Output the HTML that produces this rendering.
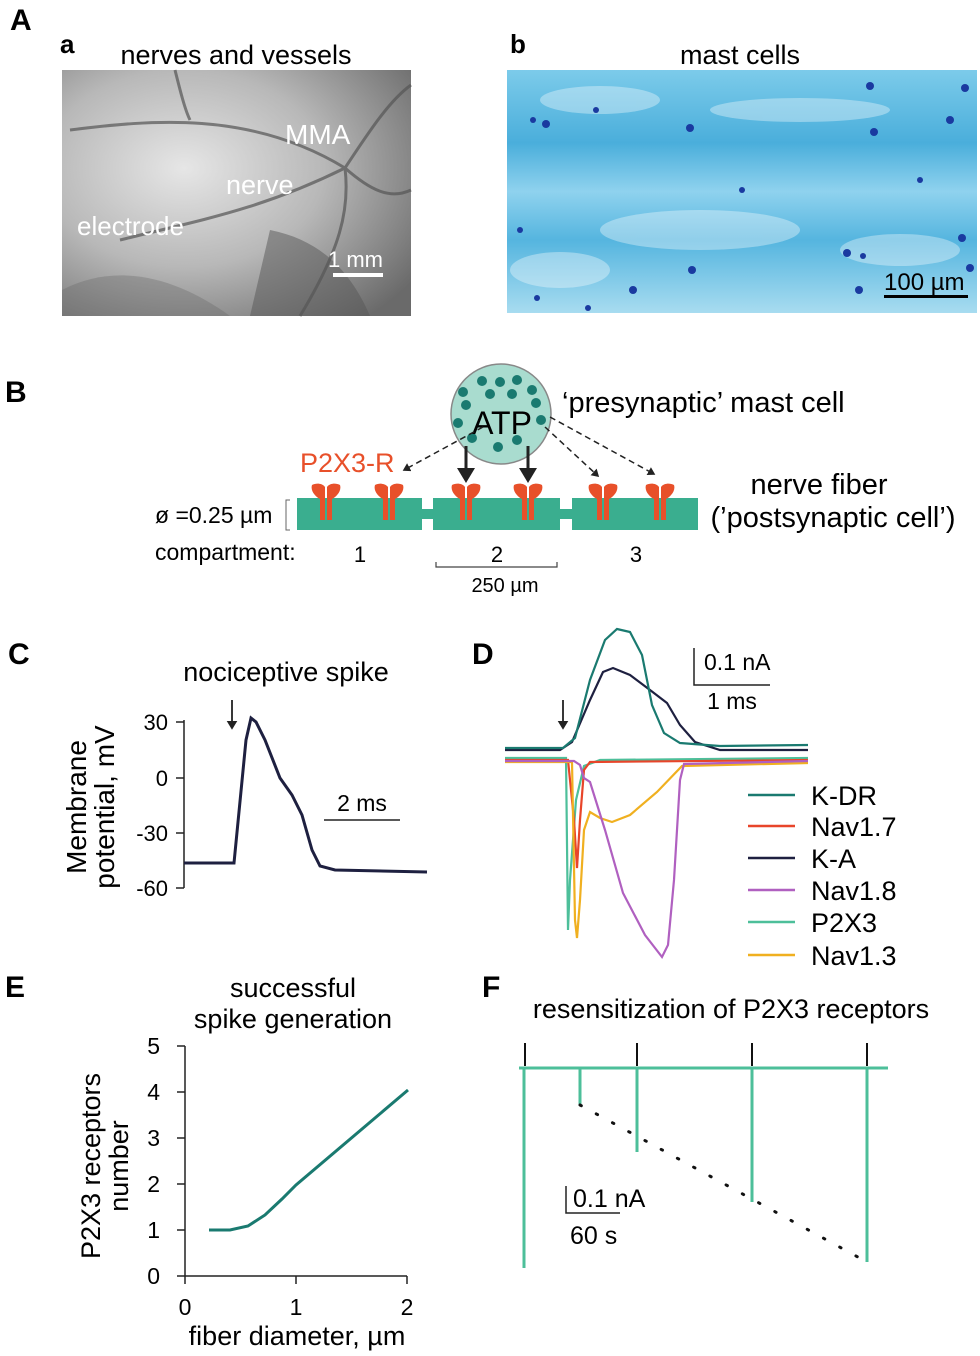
<!DOCTYPE html>
<html><head><meta charset="utf-8"><style>
html,body{margin:0;padding:0;background:#fff;}
svg{display:block;font-family:"Liberation Sans",sans-serif;}
</style></head><body>
<svg width="980" height="1356" viewBox="0 0 980 1356" xmlns="http://www.w3.org/2000/svg">
<defs>
<radialGradient id="gA" cx="0.35" cy="0.4" r="0.8">
<stop offset="0" stop-color="#e6e6e6"/><stop offset="0.5" stop-color="#b8b8b8"/><stop offset="1" stop-color="#6a6a6a"/>
</radialGradient>
<linearGradient id="gB" x1="0" y1="0" x2="0" y2="1">
<stop offset="0" stop-color="#7ccbea"/><stop offset="0.3" stop-color="#4aaedb"/><stop offset="0.5" stop-color="#8fd2ee"/><stop offset="0.7" stop-color="#55b5df"/><stop offset="1" stop-color="#a8dcf0"/>
</linearGradient>
<marker id="ahb" markerWidth="6" markerHeight="6" refX="4" refY="3" orient="auto"><path d="M0,0 L5,3 L0,6 z" fill="#222"/></marker>
</defs>

<!-- Panel A -->
<text x="10" y="30" font-size="30" font-weight="bold">A</text>
<text x="60" y="53" font-size="26" font-weight="bold">a</text>
<text x="236" y="64" font-size="27" text-anchor="middle">nerves and vessels</text>
<rect x="62" y="70" width="349" height="246" fill="url(#gA)"/>
<g stroke="#555" fill="none" stroke-width="3" opacity="0.7">
<path d="M70,130 C150,120 250,110 345,168 C370,190 390,200 411,190"/>
<path d="M345,168 C350,210 340,250 300,316"/>
<path d="M175,70 C180,90 185,110 190,120"/>
<path d="M345,168 C370,130 390,100 411,85"/>
<path d="M120,240 C200,220 260,210 345,168"/>
</g>
<path d="M270,230 C320,240 350,270 370,316 L250,316 Z" fill="#555" opacity="0.5"/>
<path d="M62,290 C120,260 180,280 230,316 L62,316 Z" fill="#666" opacity="0.35"/>
<text x="285" y="144" font-size="28" fill="#fff">MMA</text>
<text x="226" y="194" font-size="27" fill="#fff">nerve</text>
<text x="77" y="235" font-size="26" fill="#fff">electrode</text>
<text x="328" y="267" font-size="22" fill="#fff">1 mm</text>
<rect x="333" y="273" width="50" height="4" fill="#fff"/>

<text x="510" y="53" font-size="26" font-weight="bold">b</text>
<text x="740" y="64" font-size="27" text-anchor="middle">mast cells</text>
<rect x="507" y="70" width="470" height="243" fill="url(#gB)"/>
<g fill="#fff" opacity="0.35">
<ellipse cx="600" cy="100" rx="60" ry="14"/><ellipse cx="800" cy="110" rx="90" ry="12"/>
<ellipse cx="700" cy="230" rx="100" ry="20"/><ellipse cx="560" cy="270" rx="50" ry="18"/>
<ellipse cx="900" cy="250" rx="60" ry="16"/>
</g>
<g fill="#1a3aa0">
<circle cx="546" cy="124" r="4"/><circle cx="533" cy="120" r="3"/><circle cx="596" cy="110" r="3"/><circle cx="690" cy="128" r="4"/>
<circle cx="870" cy="86" r="4"/><circle cx="874" cy="132" r="4"/><circle cx="950" cy="120" r="4"/><circle cx="965" cy="88" r="4"/>
<circle cx="520" cy="230" r="3"/><circle cx="633" cy="290" r="4"/><circle cx="692" cy="270" r="4"/><circle cx="537" cy="298" r="3"/>
<circle cx="588" cy="308" r="3"/><circle cx="847" cy="253" r="4"/><circle cx="863" cy="256" r="3"/><circle cx="859" cy="290" r="4"/>
<circle cx="962" cy="238" r="4"/><circle cx="970" cy="268" r="4"/><circle cx="920" cy="180" r="3"/><circle cx="742" cy="190" r="3"/>
</g>
<text x="884" y="290" font-size="24">100 µm</text>
<rect x="884" y="295" width="84" height="3" fill="#000"/>

<!-- Panel B -->
<text x="5" y="402" font-size="30" font-weight="bold">B</text>
<circle cx="501" cy="414" r="50" fill="#a9dccf" stroke="#888" stroke-width="1.5"/>
<g fill="#1a7a70">
<circle cx="482" cy="381" r="5"/><circle cx="500" cy="382" r="5"/><circle cx="517" cy="380" r="5"/><circle cx="463" cy="392" r="5"/>
<circle cx="490" cy="394" r="5"/><circle cx="512" cy="394" r="5"/><circle cx="532" cy="390" r="5"/><circle cx="536" cy="403" r="5"/>
<circle cx="466" cy="405" r="5"/><circle cx="541" cy="420" r="5"/><circle cx="472" cy="438" r="5"/><circle cx="498" cy="447" r="5"/><circle cx="517" cy="440" r="5"/><circle cx="458" cy="423" r="5"/>
</g>
<text x="502" y="434" font-size="32" text-anchor="middle">ATP</text>
<text x="562" y="412" font-size="29">‘presynaptic’ mast cell</text>
<text x="300" y="472" font-size="27" fill="#e8502a">P2X3-R</text>
<g stroke="#222" stroke-width="1.5" fill="none" stroke-dasharray="6,4">
<path d="M483,427 L404,470" marker-end="url(#ahb)"/>
<path d="M545,427 L598,476" marker-end="url(#ahb)"/>
<path d="M550,417 L654,474" marker-end="url(#ahb)"/>
</g>
<g stroke="#222" stroke-width="3">
<path d="M466,446 L466,480" marker-end="url(#ahb)"/>
<path d="M528,446 L528,480" marker-end="url(#ahb)"/>
</g>
<g fill="#3aae8f">
<rect x="297" y="498" width="125" height="32"/><rect x="433" y="498" width="127" height="32"/><rect x="572" y="498" width="126" height="32"/>
<rect x="420" y="509" width="16" height="10"/><rect x="558" y="509" width="16" height="10"/>
</g>
<g fill="#e8502a">
<g transform="translate(326,485)"><path d="M-14,0 C-16,6 -10,12 -6,14 L-6,35 L-1,35 L-1,2 C-4,-2 -10,-2 -14,0Z"/><path d="M14,0 C16,6 10,12 6,14 L6,35 L1,35 L1,2 C4,-2 10,-2 14,0Z"/></g>
<g transform="translate(389,485)"><path d="M-14,0 C-16,6 -10,12 -6,14 L-6,35 L-1,35 L-1,2 C-4,-2 -10,-2 -14,0Z"/><path d="M14,0 C16,6 10,12 6,14 L6,35 L1,35 L1,2 C4,-2 10,-2 14,0Z"/></g>
<g transform="translate(466,485)"><path d="M-14,0 C-16,6 -10,12 -6,14 L-6,35 L-1,35 L-1,2 C-4,-2 -10,-2 -14,0Z"/><path d="M14,0 C16,6 10,12 6,14 L6,35 L1,35 L1,2 C4,-2 10,-2 14,0Z"/></g>
<g transform="translate(528,485)"><path d="M-14,0 C-16,6 -10,12 -6,14 L-6,35 L-1,35 L-1,2 C-4,-2 -10,-2 -14,0Z"/><path d="M14,0 C16,6 10,12 6,14 L6,35 L1,35 L1,2 C4,-2 10,-2 14,0Z"/></g>
<g transform="translate(603,485)"><path d="M-14,0 C-16,6 -10,12 -6,14 L-6,35 L-1,35 L-1,2 C-4,-2 -10,-2 -14,0Z"/><path d="M14,0 C16,6 10,12 6,14 L6,35 L1,35 L1,2 C4,-2 10,-2 14,0Z"/></g>
<g transform="translate(660,485)"><path d="M-14,0 C-16,6 -10,12 -6,14 L-6,35 L-1,35 L-1,2 C-4,-2 -10,-2 -14,0Z"/><path d="M14,0 C16,6 10,12 6,14 L6,35 L1,35 L1,2 C4,-2 10,-2 14,0Z"/></g>
</g>
<text x="155" y="523" font-size="23">ø =0.25 µm</text>
<path d="M290,500 L286,500 L286,530 L290,530" stroke="#666" fill="none" stroke-width="1"/>
<text x="155" y="560" font-size="23">compartment:</text>
<text x="360" y="562" font-size="22" text-anchor="middle">1</text>
<text x="497" y="562" font-size="22" text-anchor="middle">2</text>
<text x="636" y="562" font-size="22" text-anchor="middle">3</text>
<path d="M436,562 L436,567 L557,567 L557,562" stroke="#444" fill="none" stroke-width="1.2"/>
<text x="505" y="592" font-size="20" text-anchor="middle">250 µm</text>
<text x="819" y="494" font-size="29" text-anchor="middle">nerve fiber</text>
<text x="833" y="527" font-size="29" text-anchor="middle">(’postsynaptic cell’)</text>

<!-- Panel C -->
<text x="8" y="664" font-size="30" font-weight="bold">C</text>
<text x="286" y="681" font-size="27" text-anchor="middle">nociceptive spike</text>
<path d="M232,700 L232,728" stroke="#222" stroke-width="1.8" marker-end="url(#ahb)"/>
<g stroke="#222" stroke-width="1.5">
<line x1="184" y1="720" x2="184" y2="888"/>
<line x1="176" y1="722" x2="184" y2="722"/><line x1="176" y1="778" x2="184" y2="778"/>
<line x1="176" y1="833" x2="184" y2="833"/><line x1="176" y1="888" x2="184" y2="888"/>
</g>
<g font-size="22" text-anchor="end">
<text x="168" y="730">30</text><text x="168" y="786">0</text><text x="168" y="841">-30</text><text x="168" y="896">-60</text>
</g>
<text transform="translate(86,807) rotate(-90)" font-size="28" text-anchor="middle">Membrane</text>
<text transform="translate(114,807) rotate(-90)" font-size="28" text-anchor="middle">potential, mV</text>
<path d="M184,863 L234,863 L246,740 L251,718 L256,722 L265,740 L280,778 L292,795 L302,815 L312,850 L320,866 L335,870 L427,872" stroke="#1e2040" stroke-width="3" fill="none"/>
<line x1="324" y1="820" x2="400" y2="820" stroke="#222" stroke-width="1.5"/>
<text x="362" y="811" font-size="23" text-anchor="middle">2 ms</text>

<!-- Panel D -->
<text x="472" y="664" font-size="30" font-weight="bold">D</text>
<path d="M563,700 L563,728" stroke="#222" stroke-width="1.8" marker-end="url(#ahb)"/>
<g fill="none" stroke-width="2.2">
<path d="M505,758 L566,758 L568,930 L570,880 L576,800 L584,766 L600,760 L808,758" stroke="#4dbf9a"/>
<path d="M505,760 L568,760 L574,820 L577,868 L580,820 L584,770 L590,762 L808,760" stroke="#e8452a"/>
<path d="M505,762 L572,762 L575,920 L577,938 L580,900 L584,830 L590,812 L600,818 L612,822 L630,815 L657,792 L682,766 L808,763" stroke="#f0b020"/>
<path d="M505,761 L574,761 L580,765 L584,778 L590,782 L605,830 L623,893 L645,935 L662,957 L668,945 L674,880 L680,780 L684,764 L808,761" stroke="#b060c0"/>
<path d="M505,750 L560,750 L572,742 L590,700 L603,672 L613,668 L630,675 L650,690 L667,703 L680,725 L695,742 L720,750 L808,750" stroke="#1e2040"/>
<path d="M505,748 L563,748 L575,738 L590,680 L605,640 L617,629 L630,632 L642,655 L652,705 L664,733 L680,743 L720,746 L808,745" stroke="#1a7a70"/>
</g>
<path d="M694,648 L694,685 L770,685" stroke="#222" stroke-width="1.5" fill="none"/>
<text x="704" y="670" font-size="23">0.1 nA</text>
<text x="732" y="709" font-size="23" text-anchor="middle">1 ms</text>
<g stroke-width="2.5">
<line x1="748" y1="795" x2="795" y2="795" stroke="#1a7a70"/>
<line x1="748" y1="826" x2="795" y2="826" stroke="#e8452a"/>
<line x1="748" y1="858" x2="795" y2="858" stroke="#1e2040"/>
<line x1="748" y1="890" x2="795" y2="890" stroke="#b060c0"/>
<line x1="748" y1="922" x2="795" y2="922" stroke="#4dbf9a"/>
<line x1="748" y1="955" x2="795" y2="955" stroke="#f0b020"/>
</g>
<g font-size="27">
<text x="811" y="805">K-DR</text><text x="811" y="836">Nav1.7</text><text x="811" y="868">K-A</text>
<text x="811" y="900">Nav1.8</text><text x="811" y="932">P2X3</text><text x="811" y="965">Nav1.3</text>
</g>

<!-- Panel E -->
<text x="5" y="997" font-size="30" font-weight="bold">E</text>
<text x="293" y="997" font-size="27" text-anchor="middle">successful</text>
<text x="293" y="1028" font-size="27" text-anchor="middle">spike generation</text>
<g stroke="#222" stroke-width="1.5">
<line x1="185" y1="1046" x2="185" y2="1276"/><line x1="185" y1="1276" x2="407" y2="1276"/>
<line x1="177" y1="1046" x2="185" y2="1046"/><line x1="177" y1="1092" x2="185" y2="1092"/><line x1="177" y1="1138" x2="185" y2="1138"/>
<line x1="177" y1="1184" x2="185" y2="1184"/><line x1="177" y1="1230" x2="185" y2="1230"/><line x1="177" y1="1276" x2="185" y2="1276"/>
<line x1="185" y1="1276" x2="185" y2="1284"/><line x1="296" y1="1276" x2="296" y2="1284"/><line x1="407" y1="1276" x2="407" y2="1284"/>
</g>
<g font-size="23" text-anchor="end">
<text x="160" y="1054">5</text><text x="160" y="1100">4</text><text x="160" y="1146">3</text>
<text x="160" y="1192">2</text><text x="160" y="1238">1</text><text x="160" y="1284">0</text>
</g>
<g font-size="23" text-anchor="middle">
<text x="185" y="1315">0</text><text x="296" y="1315">1</text><text x="407" y="1315">2</text>
</g>
<text x="297" y="1345" font-size="27" text-anchor="middle">fiber diameter, µm</text>
<text transform="translate(100,1166) rotate(-90)" font-size="27" text-anchor="middle">P2X3 receptors</text>
<text transform="translate(128,1166) rotate(-90)" font-size="27" text-anchor="middle">number</text>
<path d="M209,1230 L230,1230 L248,1226 L265,1215 L282,1199 L296,1185 L408,1090" stroke="#1a7a70" stroke-width="3" fill="none"/>

<!-- Panel F -->
<text x="482" y="997" font-size="30" font-weight="bold">F</text>
<text x="731" y="1018" font-size="27" text-anchor="middle">resensitization of P2X3 receptors</text>
<g stroke="#4dbf9a" stroke-width="3">
<line x1="519" y1="1068" x2="888" y2="1068"/>
<line x1="524" y1="1068" x2="524" y2="1268"/>
<line x1="580" y1="1068" x2="580" y2="1105"/>
<line x1="637" y1="1068" x2="637" y2="1152"/>
<line x1="752" y1="1068" x2="752" y2="1202"/>
<line x1="867" y1="1068" x2="867" y2="1262"/>
</g>
<g stroke="#111" stroke-width="2">
<line x1="525" y1="1043" x2="525" y2="1066"/><line x1="637" y1="1043" x2="637" y2="1066"/>
<line x1="752" y1="1043" x2="752" y2="1066"/><line x1="867" y1="1043" x2="867" y2="1066"/>
</g>
<line x1="580" y1="1105" x2="867" y2="1262" stroke="#111" stroke-width="3" stroke-dasharray="1.5,17" stroke-linecap="round"/>
<path d="M566,1186 L566,1213 L620,1213" stroke="#222" stroke-width="1.5" fill="none"/>
<text x="573" y="1207" font-size="25">0.1 nA</text>
<text x="570" y="1244" font-size="25">60 s</text>
</svg>
</body></html>
